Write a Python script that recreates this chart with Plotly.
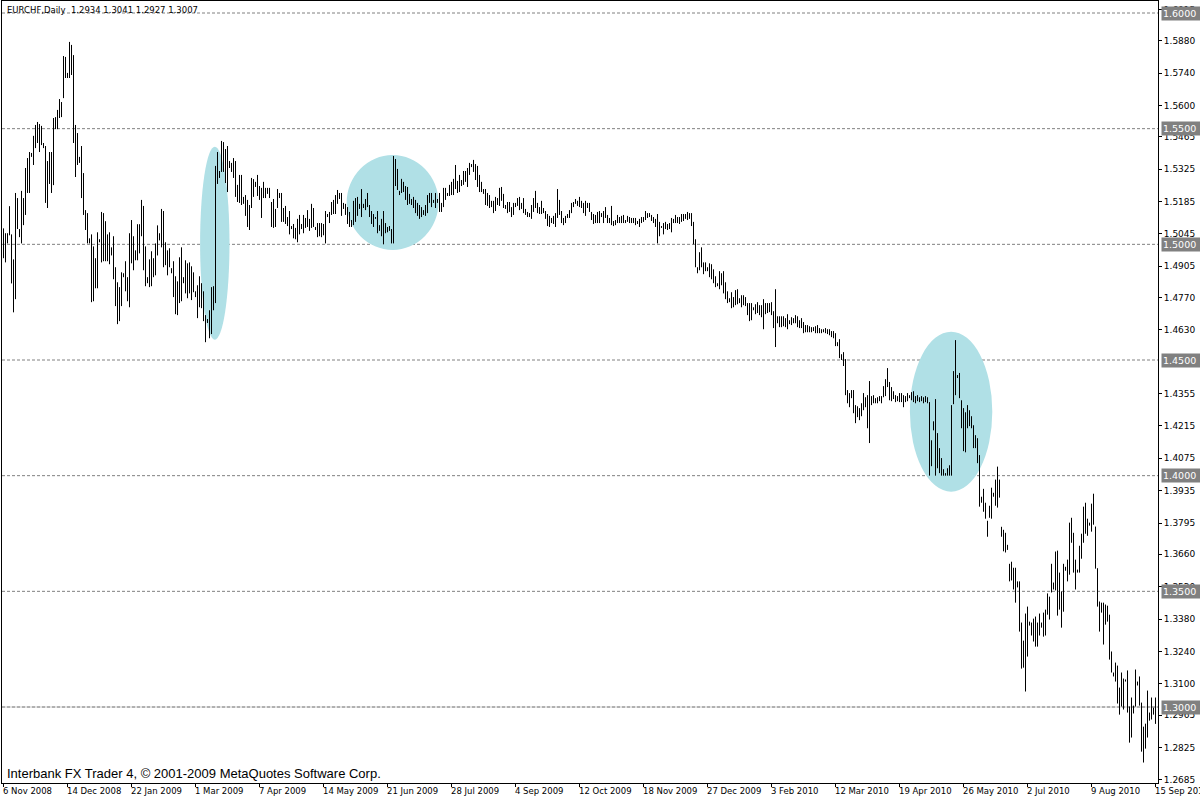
import plotly.graph_objects as go

SYMBOL = "EURCHF,Daily"

# Daily highs / lows (one entry per bar, left to right)
HIGH = [
    1.5069, 1.5048, 1.5048, 1.5165, 1.5043, 1.4935, 1.5222, 1.5200, 1.5066, 1.5231,
    1.5200, 1.5330, 1.5373, 1.5399, 1.5395, 1.5469, 1.5516, 1.5529, 1.5520, 1.5512,
    1.5438, 1.5425, 1.5360, 1.5399, 1.5399, 1.5546, 1.5550, 1.5581, 1.5628, 1.5615,
    1.5814, 1.5810, 1.5741, 1.5875, 1.5862, 1.5818, 1.5516, 1.5481, 1.5378, 1.5425,
    1.5308, 1.5148, 1.5135, 1.5026, 1.5043, 1.4991, 1.4940, 1.5052, 1.5022,
    1.5140, 1.5135, 1.5100, 1.5043, 1.5052, 1.4987, 1.5035, 1.4901, 1.4836, 1.4815,
    1.4879, 1.4875, 1.4927, 1.4858, 1.5048, 1.5105, 1.5035, 1.4974, 1.5087, 1.5087,
    1.5192, 1.5166, 1.4991, 1.4858, 1.4935, 1.4970, 1.4940, 1.5004, 1.5082, 1.5048,
    1.5153, 1.5144, 1.5009, 1.4974, 1.4983, 1.4897, 1.4927, 1.4862, 1.4840, 1.4944,
    1.4987, 1.4858, 1.4931, 1.4918, 1.4922, 1.4905, 1.4879, 1.4797, 1.4823, 1.4862, 1.4832, 1.4797,
    1.4694, 1.4677, 1.4715, 1.4815, 1.4819, 1.5339, 1.5399, 1.5317, 1.5447, 1.5442,
    1.5412, 1.5425, 1.5360, 1.5352, 1.5373, 1.5360, 1.5257, 1.5300, 1.5300, 1.5205,
    1.5213, 1.5192, 1.5170, 1.5287, 1.5282, 1.5270, 1.5300, 1.5252, 1.5244, 1.5270,
    1.5244, 1.5244, 1.5244, 1.5183, 1.5196, 1.5153, 1.5239, 1.5222, 1.5222, 1.5157,
    1.5166, 1.5118, 1.5144, 1.5079, 1.5088, 1.5071, 1.5110, 1.5127,
    1.5088, 1.5127, 1.5114, 1.5148, 1.5110, 1.5175, 1.5157, 1.5075, 1.5092, 1.5092,
    1.5092, 1.5088, 1.5144, 1.5131, 1.5140, 1.5183, 1.5192, 1.5213, 1.5235, 1.5222,
    1.5222, 1.5179, 1.5175, 1.5161, 1.5140, 1.5105, 1.5188, 1.5200, 1.5205, 1.5175,
    1.5239, 1.5175, 1.5196, 1.5222, 1.5170, 1.5144, 1.5131, 1.5118, 1.5144, 1.5083,
    1.5110, 1.5144, 1.5092, 1.5075, 1.5079, 1.5066, 1.5382, 1.5369,
    1.5326, 1.5231, 1.5283, 1.5270, 1.5252, 1.5248, 1.5218, 1.5196, 1.5205, 1.5192,
    1.5179, 1.5170, 1.5161, 1.5148, 1.5170, 1.5213, 1.5222, 1.5222, 1.5192, 1.5222,
    1.5196, 1.5222, 1.5179, 1.5244, 1.5244, 1.5222, 1.5257, 1.5270, 1.5283, 1.5343,
    1.5274, 1.5300, 1.5278, 1.5317, 1.5317, 1.5330, 1.5352, 1.5347, 1.5365, 1.5347,
    1.5339, 1.5300, 1.5270, 1.5239, 1.5239, 1.5222, 1.5213, 1.5188, 1.5188, 1.5205, 1.5200, 1.5244,
    1.5248, 1.5218, 1.5170, 1.5183, 1.5183, 1.5161, 1.5179, 1.5179, 1.5200, 1.5205,
    1.5179, 1.5200, 1.5153, 1.5140, 1.5135, 1.5170, 1.5200, 1.5231, 1.5179, 1.5161,
    1.5188, 1.5157, 1.5144, 1.5131, 1.5123, 1.5114, 1.5123, 1.5135, 1.5239, 1.5192,
    1.5144, 1.5114, 1.5123, 1.5131, 1.5148, 1.5179, 1.5183, 1.5196, 1.5188, 1.5205,
    1.5188, 1.5179, 1.5188, 1.5179, 1.5179, 1.5140, 1.5131, 1.5127, 1.5140, 1.5144,
    1.5135, 1.5144, 1.5161, 1.5127, 1.5114, 1.5166, 1.5101, 1.5105, 1.5127, 1.5118,
    1.5123, 1.5127, 1.5105, 1.5123, 1.5118, 1.5114, 1.5114, 1.5114, 1.5101, 1.5110,
    1.5118, 1.5118, 1.5144, 1.5135, 1.5135, 1.5127, 1.5118, 1.5110, 1.5131, 1.5097,
    1.5079, 1.5092, 1.5097, 1.5088, 1.5092, 1.5114, 1.5110, 1.5127, 1.5118, 1.5118,
    1.5131, 1.5131, 1.5131, 1.5140, 1.5135, 1.5135, 1.5097, 1.5022, 1.4901, 1.4966,
    1.4987, 1.4922, 1.4922, 1.4901, 1.4918, 1.4914, 1.4892, 1.4862, 1.4832, 1.4884,
    1.4875, 1.4884, 1.4836, 1.4797, 1.4767, 1.4793, 1.4772, 1.4802, 1.4806, 1.4767,
    1.4780, 1.4780, 1.4772, 1.4746, 1.4746, 1.4746, 1.4728, 1.4741, 1.4750, 1.4737,
    1.4737, 1.4763, 1.4746, 1.4746, 1.4746, 1.4750, 1.4711, 1.4806, 1.4689, 1.4689,
    1.4689, 1.4689, 1.4681, 1.4698, 1.4672, 1.4685, 1.4681, 1.4694, 1.4689, 1.4672,
    1.4681, 1.4664, 1.4651, 1.4651, 1.4646, 1.4642, 1.4642, 1.4646, 1.4651, 1.4638,
    1.4633, 1.4633, 1.4638, 1.4633, 1.4633, 1.4625, 1.4625, 1.4616, 1.4577, 1.4590,
    1.4525, 1.4534, 1.4504, 1.4370, 1.4357, 1.4370, 1.4370, 1.4305, 1.4300, 1.4292,
    1.4313, 1.4357, 1.4339, 1.4348, 1.4409, 1.4344, 1.4348, 1.4335, 1.4339, 1.4344,
    1.4344, 1.4387, 1.4417, 1.4465, 1.4405, 1.4383, 1.4365, 1.4348, 1.4344, 1.4357,
    1.4357, 1.4348, 1.4344, 1.4357, 1.4348, 1.4361, 1.4365, 1.4344, 1.4348, 1.4339,
    1.4344, 1.4339, 1.4344, 1.4339, 1.4318, 1.4153, 1.4235, 1.4331, 1.4184, 1.4119,
    1.4076, 1.4028, 1.4011, 1.4032, 1.4045, 1.4305, 1.4452, 1.4586, 1.4435, 1.4444,
    1.4326, 1.4292, 1.4274, 1.4305, 1.4283, 1.4257, 1.4218, 1.4175, 1.4162, 1.4089,
    1.3909, 1.3943, 1.3883, 1.3805, 1.3870, 1.3948, 1.3926, 1.3983, 1.4039, 1.3983,
    1.3779, 1.3766, 1.3753, 1.3701, 1.3619, 1.3628, 1.3602, 1.3602, 1.3543, 1.3543,
    1.3365, 1.3287, 1.3404, 1.3434, 1.3369, 1.3365, 1.3382, 1.3391, 1.3365, 1.3404,
    1.3365, 1.3408, 1.3421, 1.3491, 1.3477, 1.3619, 1.3538, 1.3672, 1.3676, 1.3581,
    1.3500, 1.3619, 1.3606, 1.3637, 1.3797, 1.3818, 1.3753, 1.3637, 1.3594, 1.3697,
    1.3749, 1.3866, 1.3883, 1.3814, 1.3797, 1.3879, 1.3922, 1.3780, 1.3600, 1.3456,
    1.3451, 1.3451, 1.3443, 1.3438, 1.3399, 1.3240, 1.3149, 1.3192, 1.3179, 1.3084,
    1.3149, 1.3123, 1.3119, 1.3158, 1.3002, 1.3041, 1.3006, 1.3162, 1.3110, 1.3132,
    1.3019, 1.2915, 1.2928, 1.3071, 1.2976, 1.3041, 1.2997, 1.3041,
]

LOW = [
    1.4940, 1.4922, 1.5004, 1.5039, 1.4831, 1.4706, 1.4763, 1.5066, 1.5031, 1.5004,
    1.5083, 1.5127, 1.5222, 1.5222, 1.5378, 1.5343, 1.5416, 1.5438, 1.5399, 1.5429,
    1.5416, 1.5179, 1.5157, 1.5261, 1.5222, 1.5256, 1.5498, 1.5498, 1.5546, 1.5550,
    1.5632, 1.5719, 1.5719, 1.5719, 1.5732, 1.5438, 1.5291, 1.5343, 1.5352, 1.5200,
    1.5127, 1.5062, 1.5004, 1.5004, 1.4750, 1.4754, 1.4810, 1.4810, 1.5009,
    1.4922, 1.4927, 1.4927, 1.4927, 1.4914, 1.4952, 1.4849, 1.4733, 1.4655, 1.4668,
    1.4733, 1.4858, 1.4797, 1.4754, 1.4728, 1.4918, 1.4888, 1.4931, 1.4931, 1.4961,
    1.5035, 1.4888, 1.4819, 1.4832, 1.4815, 1.4819, 1.4858, 1.4866, 1.4952, 1.5017,
    1.4987, 1.4901, 1.4910, 1.4866, 1.4901, 1.4875, 1.4772, 1.4698, 1.4694, 1.4746,
    1.4754, 1.4832, 1.4788, 1.4767, 1.4788, 1.4759, 1.4793, 1.4772, 1.4681, 1.4728, 1.4724, 1.4668,
    1.4577, 1.4660, 1.4594, 1.4612, 1.4715, 1.4746, 1.5261, 1.5287, 1.5313, 1.5313,
    1.5265, 1.5226, 1.5330, 1.5313, 1.5287, 1.5205, 1.5183, 1.5179, 1.5170, 1.5175,
    1.5123, 1.5075, 1.5062, 1.5157, 1.5205, 1.5248, 1.5209, 1.5192, 1.5114, 1.5200,
    1.5200, 1.5218, 1.5200, 1.5075, 1.5071, 1.5075, 1.5157, 1.5200, 1.5097, 1.5097,
    1.5088, 1.5079, 1.5043, 1.5066, 1.5026, 1.5022, 1.5009, 1.5043,
    1.5066, 1.5048, 1.5071, 1.5075, 1.5058, 1.5071, 1.5075, 1.5062, 1.5031, 1.5035,
    1.5031, 1.5039, 1.5004, 1.5118, 1.5092, 1.5127, 1.5131, 1.5131, 1.5175, 1.5196,
    1.5123, 1.5153, 1.5127, 1.5088, 1.5075, 1.5075, 1.5083, 1.5097, 1.5123, 1.5153,
    1.5118, 1.5157, 1.5148, 1.5161, 1.5118, 1.5088, 1.5075, 1.5110, 1.5048, 1.5058,
    1.5035, 1.5000, 1.5048, 1.5052, 1.5058, 1.5004, 1.5004, 1.5252,
    1.5235, 1.5213, 1.5222, 1.5226, 1.5192, 1.5170, 1.5175, 1.5170, 1.5157, 1.5135,
    1.5123, 1.5110, 1.5118, 1.5127, 1.5123, 1.5135, 1.5179, 1.5161, 1.5179, 1.5157,
    1.5179, 1.5140, 1.5140, 1.5161, 1.5192, 1.5209, 1.5209, 1.5213, 1.5213, 1.5239,
    1.5222, 1.5226, 1.5252, 1.5257, 1.5270, 1.5248, 1.5300, 1.5334, 1.5313, 1.5278,
    1.5248, 1.5226, 1.5226, 1.5218, 1.5170, 1.5166, 1.5157, 1.5161, 1.5135, 1.5144, 1.5170, 1.5166,
    1.5188, 1.5157, 1.5153, 1.5135, 1.5140, 1.5118, 1.5127, 1.5161, 1.5166, 1.5148,
    1.5153, 1.5135, 1.5127, 1.5118, 1.5118, 1.5110, 1.5140, 1.5157, 1.5135, 1.5131,
    1.5131, 1.5135, 1.5110, 1.5079, 1.5075, 1.5092, 1.5088, 1.5075, 1.5114, 1.5127,
    1.5092, 1.5083, 1.5092, 1.5114, 1.5114, 1.5135, 1.5161, 1.5175, 1.5166, 1.5161,
    1.5157, 1.5135, 1.5123, 1.5157, 1.5140, 1.5105, 1.5088, 1.5092, 1.5092, 1.5092,
    1.5118, 1.5092, 1.5114, 1.5092, 1.5092, 1.5083, 1.5079, 1.5083, 1.5092, 1.5092,
    1.5092, 1.5092, 1.5092, 1.5097, 1.5092, 1.5092, 1.5092, 1.5083, 1.5088, 1.5075,
    1.5092, 1.5097, 1.5105, 1.5114, 1.5118, 1.5101, 1.5092, 1.5075, 1.5004, 1.5035,
    1.5071, 1.5043, 1.5066, 1.5062, 1.5066, 1.5052, 1.5092, 1.5092, 1.5092, 1.5088,
    1.5097, 1.5101, 1.5110, 1.5105, 1.5110, 1.5079, 1.5000, 1.4901, 1.4875, 1.4888,
    1.4901, 1.4871, 1.4884, 1.4884, 1.4858, 1.4849, 1.4832, 1.4815, 1.4819, 1.4806,
    1.4823, 1.4788, 1.4763, 1.4746, 1.4750, 1.4724, 1.4728, 1.4737, 1.4741, 1.4746,
    1.4728, 1.4737, 1.4733, 1.4694, 1.4668, 1.4672, 1.4715, 1.4698, 1.4703, 1.4694,
    1.4685, 1.4633, 1.4698, 1.4703, 1.4707, 1.4694, 1.4638, 1.4556, 1.4659, 1.4642,
    1.4642, 1.4646, 1.4642, 1.4633, 1.4655, 1.4651, 1.4659, 1.4659, 1.4642, 1.4638,
    1.4638, 1.4616, 1.4620, 1.4620, 1.4620, 1.4620, 1.4625, 1.4616, 1.4616, 1.4616,
    1.4616, 1.4620, 1.4616, 1.4612, 1.4607, 1.4599, 1.4594, 1.4560, 1.4560, 1.4508,
    1.4500, 1.4474, 1.4348, 1.4313, 1.4296, 1.4335, 1.4270, 1.4227, 1.4253, 1.4240,
    1.4257, 1.4283, 1.4296, 1.4205, 1.4141, 1.4305, 1.4313, 1.4313, 1.4313, 1.4322,
    1.4313, 1.4339, 1.4344, 1.4383, 1.4326, 1.4322, 1.4331, 1.4318, 1.4322, 1.4318,
    1.4318, 1.4296, 1.4318, 1.4322, 1.4335, 1.4326, 1.4318, 1.4313, 1.4322, 1.4318,
    1.4322, 1.4313, 1.4318, 1.4313, 1.4000, 1.4041, 1.4196, 1.4000, 1.4032, 1.4011,
    1.4000, 1.4000, 1.4000, 1.4000, 1.4000, 1.4000, 1.4309, 1.4348, 1.4422, 1.4335,
    1.4205, 1.4106, 1.4101, 1.4205, 1.4214, 1.4205, 1.4119, 1.4119, 1.4054, 1.3866,
    1.3883, 1.3844, 1.3814, 1.3736, 1.3818, 1.3814, 1.3909, 1.3870, 1.3862, 1.3905,
    1.3736, 1.3673, 1.3668, 1.3679, 1.3543, 1.3547, 1.3508, 1.3451, 1.3517, 1.3326,
    1.3166, 1.3170, 1.3067, 1.3218, 1.3352, 1.3309, 1.3283, 1.3261, 1.3261, 1.3309,
    1.3343, 1.3304, 1.3309, 1.3399, 1.3378, 1.3495, 1.3508, 1.3504, 1.3395, 1.3421,
    1.3343, 1.3412, 1.3589, 1.3543, 1.3572, 1.3710, 1.3581, 1.3508, 1.3581, 1.3581,
    1.3641, 1.3710, 1.3749, 1.3740, 1.3784, 1.3758, 1.3788, 1.3598, 1.3434, 1.3326,
    1.3408, 1.3270, 1.3356, 1.3369, 1.3205, 1.3149, 1.3132, 1.3110, 1.3015, 1.2967,
    1.3002, 1.2989, 1.3110, 1.2976, 1.2846, 1.2868, 1.2972, 1.3002, 1.3093, 1.3006,
    1.2807, 1.2760, 1.2820, 1.2868, 1.2941, 1.2946, 1.2967, 1.2927,
]

LAST_OPEN = 1.2934
LAST_CLOSE = 1.3007

# Date axis labels: one every 32 bars, starting at the first bar
DATE_LABEL_STEP = 32
DATE_LABELS = [
    "6 Nov 2008", "14 Dec 2008", "22 Jan 2009", "1 Mar 2009", "7 Apr 2009",
    "14 May 2009", "21 Jun 2009", "28 Jul 2009", "4 Sep 2009", "12 Oct 2009",
    "18 Nov 2009", "27 Dec 2009", "3 Feb 2010", "12 Mar 2010", "19 Apr 2010",
    "26 May 2010", "2 Jul 2010", "9 Aug 2010", "15 Sep 2010",
]

PRICE_TICKS = [
    1.6015, 1.5880, 1.5740, 1.5600, 1.5465, 1.5325, 1.5185, 1.5045, 1.4905,
    1.4770, 1.4630, 1.4355, 1.4215, 1.4075, 1.3935, 1.3795, 1.3660, 1.3520,
    1.3380, 1.3240, 1.3100, 1.2965, 1.2825, 1.2685,
]

LEVELS = [1.60, 1.55, 1.50, 1.45, 1.40, 1.35, 1.30]

# highlighted zones: (first bar, last bar, upper price, lower price)
HIGHLIGHTS = [
    (98.3, 113.0, 1.5422, 1.4588),
    (171.6, 217.5, 1.5386, 1.4976),
    (453.2, 494.4, 1.4622, 1.3931),
]

Y_RANGE = (1.267147, 1.605187)

assert len(HIGH) == len(LOW)
n = len(HIGH)

xs, ys = [], []
for i, (h, l) in enumerate(zip(HIGH, LOW)):
    xs += [i, i, None]
    ys += [h, l, None]

fig = go.Figure(
    go.Scatter(
        x=xs, y=ys, mode="lines",
        line=dict(color="black", width=1),
        hoverinfo="skip", showlegend=False, name=SYMBOL,
    )
)

shapes = []
for x0, x1, y1, y0 in HIGHLIGHTS:
    shapes.append(dict(type="circle", xref="x", yref="y", x0=x0, x1=x1, y0=y0, y1=y1,
                       fillcolor="#B0E0E6", line=dict(width=0), layer="below"))
shapes.append(dict(type="line", xref="paper", yref="y", x0=0, x1=1, y0=1.30, y1=1.30,
                   line=dict(color="#C8C8C8", width=1), layer="below"))
for lv in LEVELS:
    shapes.append(dict(type="line", xref="paper", yref="y", x0=0, x1=1, y0=lv, y1=lv,
                       line=dict(color="#808080", width=1, dash="3px,2px"), layer="below"))

annotations = []
annotations.append(dict(
    xref="paper", yref="paper", x=0, y=1, xanchor="left", yanchor="top",
    xshift=3, yshift=-2, showarrow=False,
    text=f"{SYMBOL}\u00a0\u00a0{LAST_OPEN:.4f} {HIGH[-1]:.4f} {LOW[-1]:.4f} {LAST_CLOSE:.4f}",
    font=dict(family="DejaVu Sans", size=8.5, color="black"),
))
annotations.append(dict(
    xref="paper", yref="paper", x=0, y=0, xanchor="left", yanchor="bottom",
    xshift=3, yshift=0, showarrow=False,
    text="Interbank FX Trader 4, © 2001-2009 MetaQuotes Software Corp.",
    font=dict(family="Liberation Sans", size=13, color="black"),
))
date_idx = [k * DATE_LABEL_STEP for k in range(len(DATE_LABELS))]
for idx, lab in zip(date_idx, DATE_LABELS):
    annotations.append(dict(
        xref="x", yref="paper", x=idx, y=0, xanchor="left", yanchor="top",
        xshift=-3, yshift=-1, showarrow=False, text=lab,
        font=dict(family="DejaVu Sans", size=8.5, color="black"),
    ))
for lv in LEVELS:
    annotations.append(dict(
        xref="paper", yref="y", x=1, y=lv, xanchor="left", yanchor="middle",
        xshift=3, showarrow=False, text=f"{lv:.4f}", align="left",
        bgcolor="#808080", borderpad=1, width=40,
        font=dict(family="DejaVu Sans", size=9.5, color="white"),
    ))

fig.update_layout(
    width=1200, height=800,
    margin=dict(l=2, r=42, t=1, b=17),
    paper_bgcolor="white", plot_bgcolor="white",
    shapes=shapes, annotations=annotations,
    showlegend=False,
    xaxis=dict(
        range=[-0.75, n + 0.25], showgrid=False, zeroline=False,
        showline=True, mirror=True, linecolor="black", linewidth=1,
        tickvals=date_idx, ticks="outside", ticklen=3, tickcolor="black",
        showticklabels=False,
    ),
    yaxis=dict(
        side="right", range=list(Y_RANGE), showgrid=False, zeroline=False,
        showline=True, mirror=True, linecolor="black", linewidth=1,
        tickvals=PRICE_TICKS, ticktext=[f"{v:.4f}" for v in PRICE_TICKS],
        ticks="outside", ticklen=3, tickcolor="black",
        tickfont=dict(family="DejaVu Sans", size=9, color="black"),
    ),
)

fig.write_html(
    "out.html",
    config={"displayModeBar": False},
    post_script="document.body.style.margin='0';document.body.style.overflow='hidden';",
)
